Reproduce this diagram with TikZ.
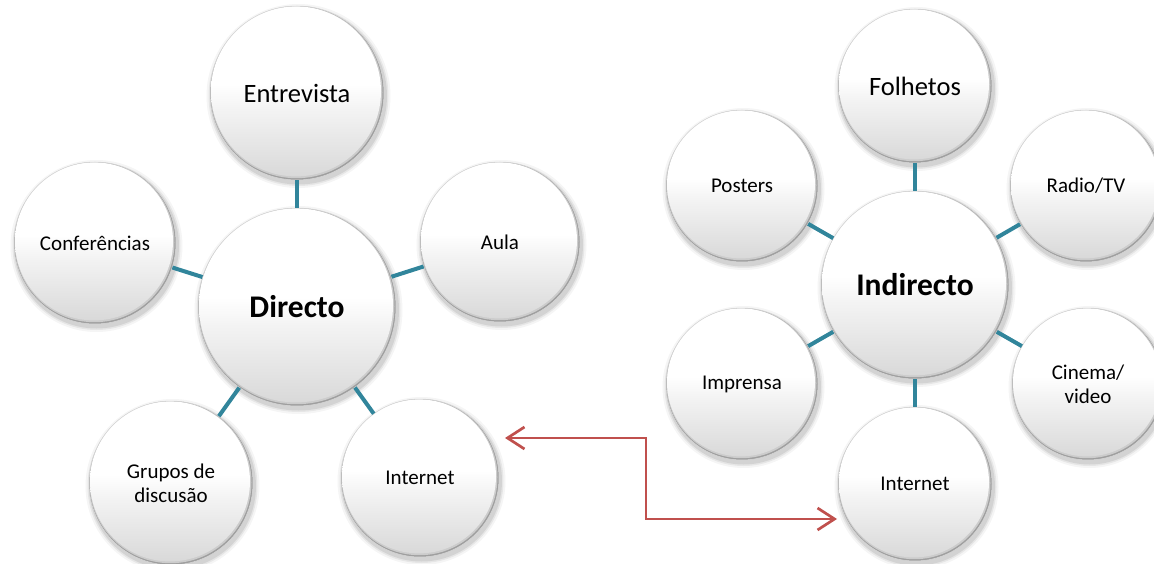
\documentclass[tikz,border=0pt]{standalone}
\usepackage{fontspec}
\setmainfont{Carlito}
\usetikzlibrary{arrows.meta}
\definecolor{teal1}{RGB}{49,133,155}
\definecolor{arrred}{RGB}{192,80,77}
\pgfdeclareverticalshading{bubsh}{100bp}{color(0bp)=(gray!30); color(25bp)=(gray!30); color(45bp)=(gray!9); color(52bp)=(white); color(75bp)=(white); color(100bp)=(white)}
\tikzset{
  conn/.style={draw=teal1, line width=4pt},
  arr/.style={draw=arrred, line width=2.7pt, {Straight Barb[length=17pt,width=22pt,line width=2.7pt]}-{Straight Barb[length=17pt,width=22pt,line width=2.7pt]}},
  bubnode/.style={circle, inner sep=0pt, align=center, text=black},
  small/.style={font=\fontsize{21}{24}\selectfont},
  mid/.style={font=\fontsize{26.5}{30}\selectfont},
  big/.style={font=\bfseries\fontsize{31.5}{36}\selectfont},
}
\newcommand\mybub[6]{%
  \foreach \k/\o in {5/0.04,3/0.06,1.5/0.08}{\fill[black,opacity=\o] (#2+1.5,#3+3) circle[radius={#4+\k}];}
  \fill[gray!75] (#2,#3) circle[radius=#4];
  \fill[gray!40] (#2-0.5,#3-0.8) circle[radius={#4-1}];
  \shade[shading=bubsh] (#2-1,#3-1.6) circle[radius={#4-2}];
  \draw[gray!30, line width=0.5pt] (#2,#3) circle[radius=#4];
  \node[bubnode, #5, minimum size={2*#4pt}] (#1) at (#2,#3) {#6};
}
\begin{document}
\begin{tikzpicture}[x=1pt,y=-1pt]
\useasboundingbox[fill=white] (0,0) rectangle (1154,564);
% left cluster
\mybub{dir}{297}{307}{99}{big}{Directo}
\mybub{ent}{297}{93}{87}{mid}{Entrevista}
\mybub{con}{95}{243}{81}{small}{Conferências}
\mybub{aul}{500}{242}{80}{small}{Aula}
\mybub{gru}{171}{483}{82}{small}{Grupos de\\discusão}
\mybub{inl}{420}{478}{79}{small}{Internet}
% right cluster
\mybub{ind}{915}{285}{94}{big}{Indirecto}
\mybub{fol}{915}{86}{77}{mid}{Folhetos}
\mybub{pos}{742}{186}{76}{small}{Posters}
\mybub{rad}{1086}{186}{76}{small}{Radio/TV}
\mybub{imp}{742}{384}{76}{small}{Imprensa}
\mybub{cin}{1088}{384}{76}{small}{Cinema/\\video}
\mybub{inr}{915}{484}{77}{small}{Internet}
% connectors
\foreach \o in {ent,con,aul,gru,inl}{\draw[conn] (dir) -- (\o);}
\foreach \o in {fol,pos,rad,imp,cin,inr}{\draw[conn] (ind) -- (\o);}
% arrow
\coordinate (a1) at (505,438);
\coordinate (a2) at (837,519);
\coordinate (bend) at (646,519);
\draw[arr] (a1) -| (bend) -- (a2);
\end{tikzpicture}
\end{document}
